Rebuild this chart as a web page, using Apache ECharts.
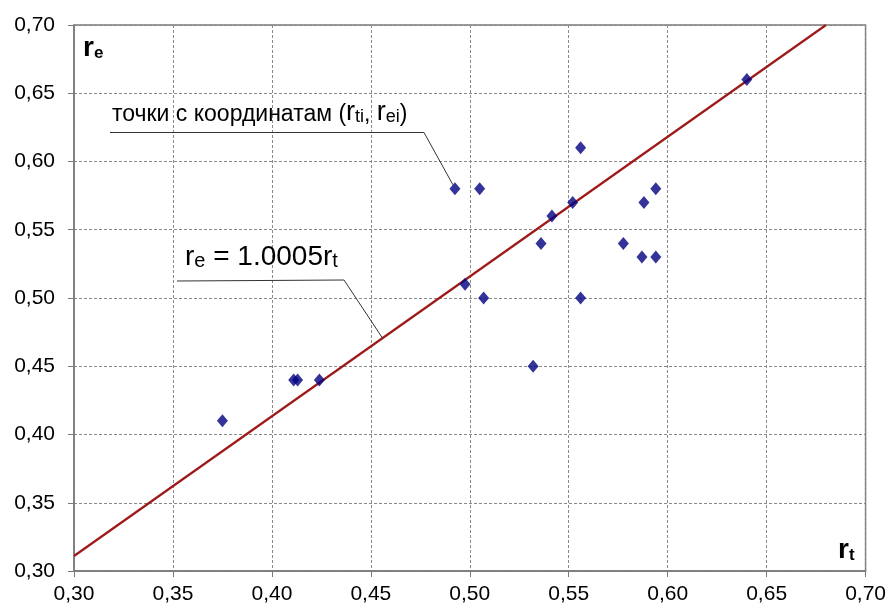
<!DOCTYPE html>
<html><head><meta charset="utf-8">
<script src="https://cdn.jsdelivr.net/npm/echarts@6/dist/echarts.min.js"></script>
<style>html,body{margin:0;padding:0;background:#fff}#c{width:889px;height:608px}</style>
</head><body><div id="c"></div>
<script>
// measured points (r_t, r_e)
const rtValues = [0.375, 0.411, 0.413, 0.424, 0.532, 0.4925, 0.505, 0.556, 0.552, 0.5415, 0.594, 0.588, 0.536, 0.5776, 0.587, 0.594, 0.4976, 0.507, 0.556, 0.640];
const reValues = [0.41, 0.44, 0.44, 0.44, 0.45, 0.58, 0.58, 0.61, 0.57, 0.56, 0.58, 0.57, 0.54, 0.54, 0.53, 0.53, 0.51, 0.50, 0.50, 0.66];
// fitted line end points
const lineX = [0.30, 0.68];
const lineY = [0.311, 0.70];
const axisMin = 0.30, axisMax = 0.70, axisStep = 0.05;
const label1 = 'точки с координатам';
const label2 = '1.0005';

const fmt = v => v.toFixed(2).replace('.', ',');
const FONT = '"Liberation Sans", Arial, sans-serif';

const chart = echarts.init(document.getElementById('c'), null, {renderer: 'canvas'});
const axisCommon = {
  min: axisMin, max: axisMax, interval: axisStep,
  axisLine: {show: true, onZero: false, lineStyle: {color: '#7a7a7a', width: 1.5}},
  axisTick: {show: true, inside: false, length: 6, lineStyle: {color: '#7a7a7a'}},
  axisLabel: {color: '#000', fontSize: 21, fontFamily: FONT, formatter: fmt},
  splitLine: {show: true, lineStyle: {color: '#8a8a8a', type: [3, 2], width: 1}}
};
chart.setOption({
  animation: false,
  backgroundColor: '#fff',
  grid: {left: 74, right: 22, top: 25, bottom: 37, show: true, borderColor: '#7a7a7a', borderWidth: 1.5, containLabel: false},
  xAxis: Object.assign({type: 'value'}, axisCommon, {axisLabel: Object.assign({}, axisCommon.axisLabel, {margin: 13})}),
  yAxis: Object.assign({type: 'value'}, axisCommon, {axisLabel: Object.assign({}, axisCommon.axisLabel, {margin: 19})}),
  series: [
    {type: 'line', data: lineX.map((x, i) => [x, lineY[i]]), symbol: 'none', lineStyle: {color: '#9e1a1a', width: 2.2}, z: 2},
    {type: 'scatter', data: rtValues.map((x, i) => [x, reValues[i]]), symbol: 'diamond', symbolSize: [11, 13], itemStyle: {color: '#000080'}, z: 3}
  ]
});

const p1 = chart.convertToPixel({gridIndex: 0}, [rtValues[5], reValues[5]]);
const lx = 0.4559;
const p2 = chart.convertToPixel({gridIndex: 0}, [lx, lineY[0] + (lineY[1] - lineY[0]) / (lineX[1] - lineX[0]) * (lx - lineX[0])]);

chart.setOption({
  graphic: [
    {type: 'polyline', shape: {points: [[110, 132.5], [424, 132.5], [p1[0] - 2, p1[1] - 4]]}, style: {stroke: '#333', lineWidth: 1, fill: null}, z: 10},
    {type: 'polyline', shape: {points: [[177, 281], [344, 280], [p2[0], p2[1]]]}, style: {stroke: '#333', lineWidth: 1, fill: null}, z: 10},
    {type: 'text', left: 112, top: 99, z: 11, style: {
      text: '{n|' + label1 + ' (}{r|r}{s|ti}{n|, }{r|r}{s|ei}{n|)}',
      rich: {
        n: {fontSize: 23, fontFamily: FONT, fill: '#000', verticalAlign: 'bottom', lineHeight: 28},
        r: {fontSize: 27, fontFamily: FONT, fill: '#000', verticalAlign: 'bottom', lineHeight: 30},
        s: {fontSize: 18, fontFamily: FONT, fill: '#000', verticalAlign: 'bottom', lineHeight: 25}
      }}},
    {type: 'text', left: 185, top: 243, z: 11, style: {
      text: '{n|r}{s|e}{n| = ' + label2 + 'r}{s|t}',
      rich: {
        n: {fontSize: 28, fontFamily: FONT, fill: '#000', verticalAlign: 'bottom', lineHeight: 32},
        s: {fontSize: 20, fontFamily: FONT, fill: '#000', verticalAlign: 'bottom', lineHeight: 28}
      }}},
    {type: 'text', left: 83, top: 34, z: 11, style: {
      text: '{n|r}{s|e}',
      rich: {
        n: {fontSize: 28, fontWeight: 'bold', fontFamily: FONT, fill: '#000', verticalAlign: 'bottom', lineHeight: 30},
        s: {fontSize: 17, fontWeight: 'bold', fontFamily: FONT, fill: '#000', verticalAlign: 'bottom', lineHeight: 25}
      }}},
    {type: 'text', left: 838, top: 536, z: 11, style: {
      text: '{n|r}{s|t}',
      rich: {
        n: {fontSize: 28, fontWeight: 'bold', fontFamily: FONT, fill: '#000', verticalAlign: 'bottom', lineHeight: 30},
        s: {fontSize: 17, fontWeight: 'bold', fontFamily: FONT, fill: '#000', verticalAlign: 'bottom', lineHeight: 25}
      }}}
  ]
});
</script></body></html>
